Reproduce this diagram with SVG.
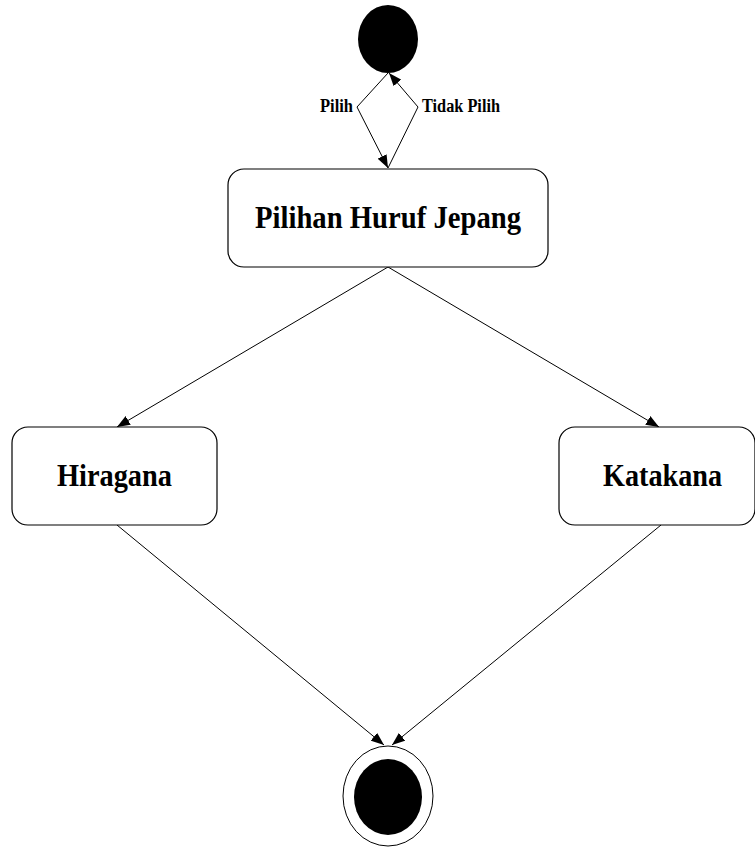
<svg xmlns="http://www.w3.org/2000/svg" width="755" height="848" viewBox="0 0 755 848">
  <style>
    .box { fill: #ffffff; stroke: #000000; stroke-width: 1.2; }
    .lbl { font-family: "Liberation Serif", "Times New Roman", serif; font-weight: bold; fill: #000000; }
    .big { font-size: 32px; }
    .small { font-size: 18px; }
    .edge { fill: none; stroke: #000000; stroke-width: 1; }
  </style>
  <defs>
    <marker id="arrow" viewBox="0 0 13 10" refX="13" refY="5" markerWidth="13" markerHeight="10" markerUnits="userSpaceOnUse" orient="auto">
      <path d="M0,0 L13,5 L0,10 z" fill="#000000"/>
    </marker>
  </defs>
  <rect width="755" height="848" fill="#ffffff"/>

  <g id="connectors">
    <polyline class="edge" points="388,73 357,107 388,168" marker-end="url(#arrow)"/>
    <polyline class="edge" points="388,168 418,107 389,73" marker-end="url(#arrow)"/>
    <line class="edge" x1="388" y1="267" x2="117" y2="427" marker-end="url(#arrow)"/>
    <line class="edge" x1="388" y1="267" x2="659" y2="427" marker-end="url(#arrow)"/>
    <line class="edge" x1="117" y1="525" x2="384" y2="745" marker-end="url(#arrow)"/>
    <line class="edge" x1="661" y1="525" x2="392" y2="745" marker-end="url(#arrow)"/>
    <text class="lbl small" x="320" y="112" textLength="33" lengthAdjust="spacingAndGlyphs">Pilih</text>
    <text class="lbl small" x="422" y="112" textLength="78" lengthAdjust="spacingAndGlyphs">Tidak Pilih</text>
  </g>

  <g id="start">
    <ellipse cx="388" cy="39" rx="30" ry="34" fill="#000000"/>
  </g>

  <g id="pilihan">
    <rect class="box" x="228" y="169" width="320" height="98" rx="16" ry="16"/>
    <text class="lbl big" x="255" y="228" textLength="266" lengthAdjust="spacingAndGlyphs">Pilihan Huruf Jepang</text>
  </g>

  <g id="hiragana">
    <rect class="box" x="12" y="427" width="205" height="98" rx="16" ry="16"/>
    <text class="lbl big" x="57" y="486" textLength="115" lengthAdjust="spacingAndGlyphs">Hiragana</text>
  </g>

  <g id="katakana">
    <rect class="box" x="559" y="427" width="196" height="98" rx="16" ry="16"/>
    <text class="lbl big" x="603" y="486" textLength="119" lengthAdjust="spacingAndGlyphs">Katakana</text>
  </g>

  <g id="end">
    <ellipse cx="388" cy="796" rx="45" ry="50" fill="#ffffff" stroke="#000000" stroke-width="1"/>
    <ellipse cx="388" cy="797" rx="34" ry="38" fill="#000000"/>
  </g>
</svg>
